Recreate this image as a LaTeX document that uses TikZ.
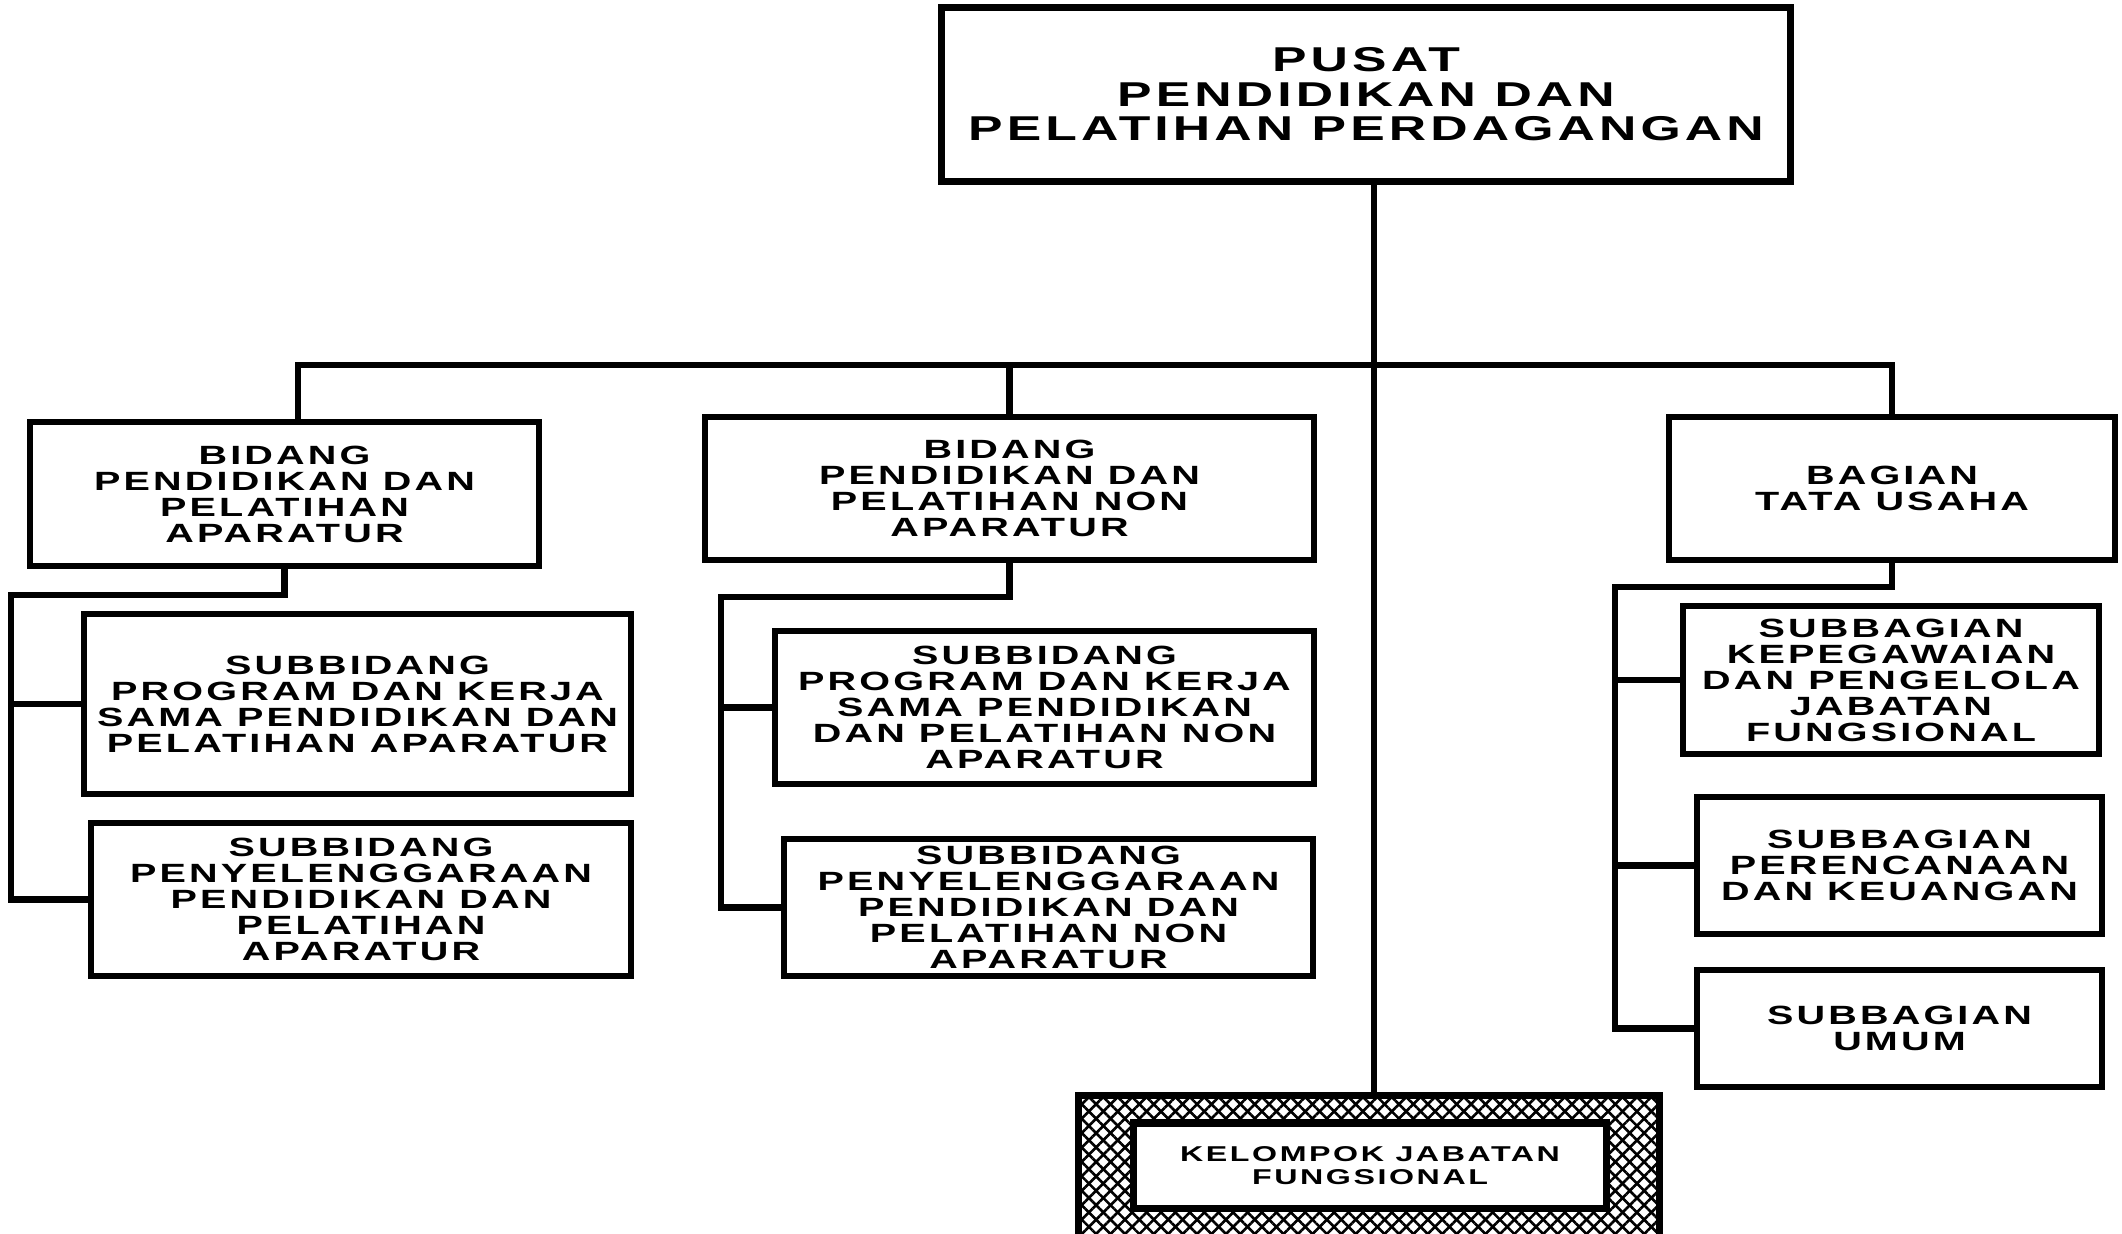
\documentclass[tikz,border=0pt]{standalone}
\usepackage{fontspec}
\newfontfamily\orgfont{Liberation Sans}[FakeStretch=1.5,LetterSpace=12]
\usetikzlibrary{calc,patterns.meta}
\begin{document}
\begin{tikzpicture}[x=0.01cm,y=-0.01cm,line width=1.8pt,
  box/.style={draw,fill=white,align=center,inner sep=0pt,line width=1.8pt,
    font=\orgfont\bfseries\fontsize{7.5}{7.4}\selectfont},
  topbox/.style={box,line width=2pt,font=\orgfont\bfseries\fontsize{9.8}{9.8}\selectfont},
  kjfbox/.style={box,line width=2pt,font=\orgfont\bfseries\fontsize{6.1}{6.5}\selectfont},
  hatchbox/.style={draw,inner sep=0pt,line width=2pt,
    preaction={pattern={Lines[angle=45,distance=2.9pt,line width=0.75pt]}},
    preaction={pattern={Lines[angle=-45,distance=2.9pt,line width=0.75pt]}}},
  link/.style={line width=1.8pt,line cap=rect}]
\clip (0,0) rectangle (2122,1234);
\fill[white] (0,0) rectangle (2122,1234);

% nodes
\node[topbox,minimum width=8.48cm,minimum height=1.73cm] (top) at (1366,94.5)
  {PUSAT\\PENDIDIKAN DAN\\PELATIHAN PERDAGANGAN};
\node[box,minimum width=5.09cm,minimum height=1.44cm] (b1) at (284.5,494)
  {BIDANG\\PENDIDIKAN DAN\\PELATIHAN\\APARATUR};
\node[box,minimum width=6.09cm,minimum height=1.43cm] (b2) at (1009.5,488.5)
  {BIDANG\\PENDIDIKAN DAN\\PELATIHAN NON\\APARATUR};
\node[box,minimum width=4.46cm,minimum height=1.43cm] (bt) at (1892,488.5)
  {BAGIAN\\TATA USAHA};
\node[box,minimum width=5.47cm,minimum height=1.80cm] (b1s1) at (357.5,704)
  {SUBBIDANG\\PROGRAM DAN KERJA\\SAMA PENDIDIKAN DAN\\PELATIHAN APARATUR};
\node[box,minimum width=5.40cm,minimum height=1.53cm] (b1s2) at (361,899.5)
  {SUBBIDANG\\PENYELENGGARAAN\\PENDIDIKAN DAN\\PELATIHAN\\APARATUR};
\node[box,minimum width=5.39cm,minimum height=1.53cm] (b2s1) at (1044.5,707.5)
  {SUBBIDANG\\PROGRAM DAN KERJA\\SAMA PENDIDIKAN\\DAN PELATIHAN NON\\APARATUR};
\node[box,minimum width=5.29cm,minimum height=1.37cm] (b2s2) at (1048.5,907.5)
  {SUBBIDANG\\PENYELENGGARAAN\\PENDIDIKAN DAN\\PELATIHAN NON\\APARATUR};
\node[box,minimum width=4.16cm,minimum height=1.48cm] (bs1) at (1891,680)
  {SUBBAGIAN\\KEPEGAWAIAN\\DAN PENGELOLA\\JABATAN\\FUNGSIONAL};
\node[box,minimum width=4.05cm,minimum height=1.37cm] (bs2) at (1899.5,865.5)
  {SUBBAGIAN\\PERENCANAAN\\DAN KEUANGAN};
\node[box,minimum width=4.05cm,minimum height=1.17cm] (bs3) at (1899.5,1028.5)
  {SUBBAGIAN\\UMUM};
\node[hatchbox,minimum width=5.80cm,minimum height=1.54cm] (kjfo) at (1369,1173) {};
\node[kjfbox,minimum width=4.72cm,minimum height=0.85cm] (kjf) at (1370,1165.5)
  {KELOMPOK JABATAN\\FUNGSIONAL};

% connectors
\coordinate (bar) at (0,365);
\coordinate (trunk) at ($(top.south)+(8,0)$);
\draw[link] (trunk) -- (trunk |- kjfo.north);
\draw[link] ($(b1.north)+(13.5,0)$) |- (bt.north |- bar) -- (bt.north);
\draw[link] (b2.north) -- (b2.north |- bar);

\coordinate (sp1) at (11,595);
\draw[link] (b1.south) |- (sp1) |- (b1s2.west);
\draw[link] (sp1 |- b1s1.west) -- (b1s1.west);

\coordinate (sp2) at (721,597);
\draw[link] (b2.south) |- (sp2) |- (b2s2.west);
\draw[link] (sp2 |- b2s1.west) -- (b2s1.west);

\coordinate (sp3) at (1615,587);
\draw[link] (bt.south) |- (sp3) |- (bs3.west);
\draw[link] (sp3 |- bs1.west) -- (bs1.west);
\draw[link] (sp3 |- bs2.west) -- (bs2.west);
\end{tikzpicture}
\end{document}
